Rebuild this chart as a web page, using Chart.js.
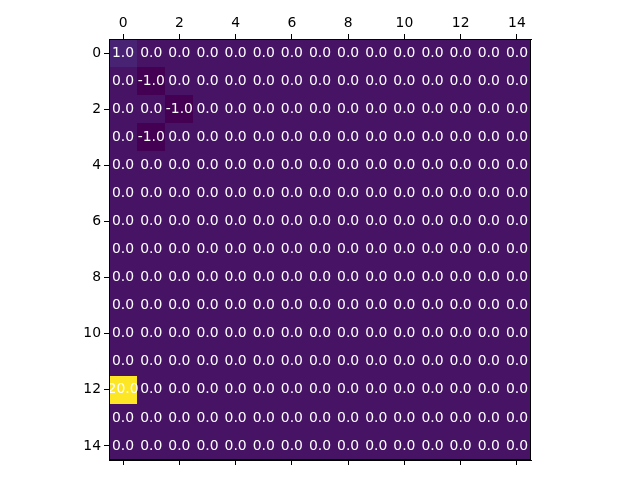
<!DOCTYPE html>
<html lang="en">
  <head>
    <meta charset="UTF-8" />
    <title>Matrix</title>
    <style>
      body { margin: 0; background: #fff; }
      .mainBox { width: 640px; height: 480px; }
    </style>
  </head>
  <body>
    <div class="mainBox">
      <canvas id="myChart" width="640" height="480"></canvas>
    </div>
    <script src="https://cdn.jsdelivr.net/npm/chart.js@4.4.0/dist/chart.umd.min.js"></script>
    <script>
      var colIdx = [0,1,2,3,4,5,6,7,8,9,10,11,12,13,14];
      var rowIdx = [0,1,2,3,4,5,6,7,8,9,10,11,12,13,14];
      var tickVals = [0,2,4,6,8,10,12,14];
      var values = [
        [1,0,0,0,0,0,0,0,0,0,0,0,0,0,0],
        [0,-1,0,0,0,0,0,0,0,0,0,0,0,0,0],
        [0,0,-1,0,0,0,0,0,0,0,0,0,0,0,0],
        [0,-1,0,0,0,0,0,0,0,0,0,0,0,0,0],
        [0,0,0,0,0,0,0,0,0,0,0,0,0,0,0],
        [0,0,0,0,0,0,0,0,0,0,0,0,0,0,0],
        [0,0,0,0,0,0,0,0,0,0,0,0,0,0,0],
        [0,0,0,0,0,0,0,0,0,0,0,0,0,0,0],
        [0,0,0,0,0,0,0,0,0,0,0,0,0,0,0],
        [0,0,0,0,0,0,0,0,0,0,0,0,0,0,0],
        [0,0,0,0,0,0,0,0,0,0,0,0,0,0,0],
        [0,0,0,0,0,0,0,0,0,0,0,0,0,0,0],
        [20,0,0,0,0,0,0,0,0,0,0,0,0,0,0],
        [0,0,0,0,0,0,0,0,0,0,0,0,0,0,0],
        [0,0,0,0,0,0,0,0,0,0,0,0,0,0,0]
      ];

      // viridis for the value range -1 .. 20
      function cellColor(v) {
        if (v >= 20) return '#fde725';
        if (v >= 1) return '#482374';
        if (v >= 0) return '#471365';
        return '#440154';
      }

      var points = [];
      rowIdx.forEach(function(r) {
        colIdx.forEach(function(c) {
          points.push({x: c, y: r, v: values[r][c]});
        });
      });

      var font = {family: 'DejaVu Sans', size: 13.9};

      var heatPlugin = {
        id: 'heat',
        beforeDatasetsDraw: function(chart) {
          var ctx = chart.ctx;
          var xs = chart.scales.x, ys = chart.scales.y;
          ctx.save();
          chart.data.datasets[0].data.forEach(function(p) {
            var x0 = Math.round(xs.getPixelForValue(p.x - 0.5)), x1 = Math.round(xs.getPixelForValue(p.x + 0.5));
            var y0 = Math.round(ys.getPixelForValue(p.y - 0.5)), y1 = Math.round(ys.getPixelForValue(p.y + 0.5));
            ctx.fillStyle = cellColor(p.v);
            ctx.fillRect(x0, y0, x1 - x0, y1 - y0);
          });
          ctx.fillStyle = '#fff';
          ctx.font = '13.9px "DejaVu Sans"';
          ctx.textAlign = 'center';
          ctx.textBaseline = 'middle';
          chart.data.datasets[0].data.forEach(function(p) {
            ctx.fillText(p.v.toFixed(1), xs.getPixelForValue(p.x), ys.getPixelForValue(p.y));
          });
          ctx.restore();
        },
        afterDraw: function(chart) {
          var a = chart.chartArea, ctx = chart.ctx;
          ctx.save();
          ctx.strokeStyle = '#000';
          ctx.lineWidth = 1;
          ctx.strokeRect(a.left + 0.5, a.top + 0.5, a.right - a.left - 1, a.bottom - a.top - 1);
          ctx.restore();
        }
      };

      function fixTicks(s) {
        s.ticks = tickVals.map(function(v) { return {value: v}; });
      }

      var ctx = document.getElementById('myChart');
      new Chart(ctx, {
        type: 'scatter',
        data: {datasets: [{data: points, pointRadius: 0}]},
        options: {
          responsive: false,
          animation: false,
          layout: {padding: {left: 0, right: 109, top: 0, bottom: 0}},
          plugins: {legend: {display: false}, tooltip: {enabled: false}},
          scales: {
            x: {
              type: 'linear', position: 'top', min: -0.5, max: 14.5,
              afterBuildTicks: fixTicks,
              afterFit: function(s) { s.height = 39; },
              grid: {drawOnChartArea: false, tickLength: 5, tickColor: '#000'},
              border: {color: '#000'},
              ticks: {color: '#000', font: font, padding: 2, maxRotation: 0}
            },
            x2: {
              type: 'linear', position: 'bottom', min: -0.5, max: 14.5,
              afterBuildTicks: fixTicks,
              afterFit: function(s) { s.height = 20; },
              grid: {drawOnChartArea: false, tickLength: 5, tickColor: '#000'},
              border: {color: '#000'},
              ticks: {display: false}
            },
            y: {
              type: 'linear', position: 'left', min: -0.5, max: 14.5, reverse: true,
              afterBuildTicks: fixTicks,
              afterFit: function(s) { s.width = 109; },
              grid: {drawOnChartArea: false, tickLength: 5, tickColor: '#000'},
              border: {color: '#000'},
              ticks: {color: '#000', font: font, padding: 3}
            }
          }
        },
        plugins: [heatPlugin]
      });
    </script>
  </body>
</html>
